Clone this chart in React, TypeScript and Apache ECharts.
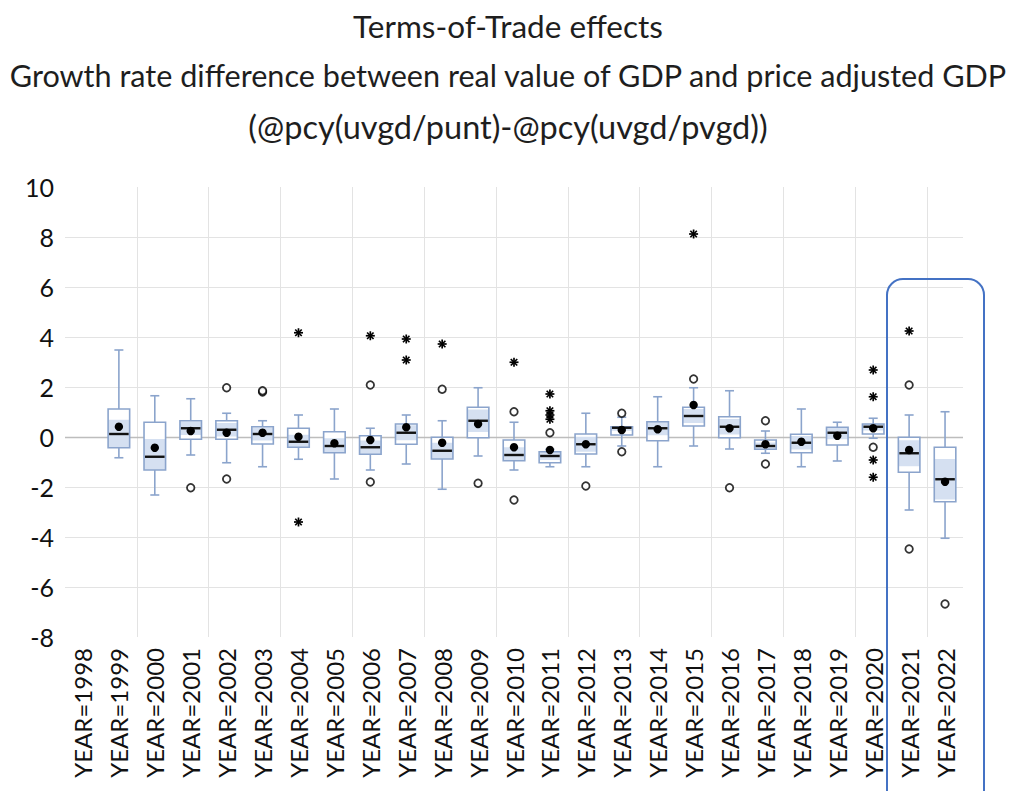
import React, { useEffect, useRef } from "react";
import * as echarts from "echarts";

const years = [1998, 1999, 2000, 2001, 2002, 2003, 2004, 2005, 2006, 2007, 2008, 2009, 2010, 2011, 2012, 2013, 2014, 2015, 2016, 2017, 2018, 2019, 2020, 2021, 2022];
const categories = years.map((y) => "YEAR=" + y);

const titleLines = [
  "Terms-of-Trade effects",
  "Growth rate difference between real value of GDP and price adjusted GDP",
  "(@pcy(uvgd/punt)-@pcy(uvgd/pvgd))",
];

// box statistics per year (1998 has no data)
const whiskerLow = [null, -0.83, -2.32, -0.72, -1.03, -1.19, -0.89, -1.68, -1.32, -1.08, -2.09, -0.76, -1.32, -1.19, -1.19, -0.36, -1.19, -0.36, -0.48, -0.65, -1.19, -0.96, -0.05, -2.92, -4.05];
const q1 = [null, -0.43, -1.32, -0.09, -0.09, -0.28, -0.41, -0.63, -0.69, -0.29, -0.88, -0.03, -0.95, -1.03, -0.68, 0.08, -0.15, 0.44, -0.03, -0.49, -0.63, -0.32, 0.12, -1.41, -2.59];
const median = [null, 0.12, -0.79, 0.35, 0.29, 0.12, -0.19, -0.36, -0.41, 0.17, -0.55, 0.65, -0.72, -0.76, -0.29, 0.37, 0.35, 0.84, 0.41, -0.36, -0.23, 0.17, 0.41, -0.65, -1.69];
const q3 = [null, 1.12, 0.59, 0.65, 0.65, 0.41, 0.35, 0.21, 0.05, 0.52, -0.01, 1.19, -0.12, -0.59, 0.12, 0.41, 0.61, 1.19, 0.81, -0.12, 0.11, 0.39, 0.52, -0.01, -0.41];
const whiskerHigh = [null, 3.48, 1.65, 1.53, 0.95, 0.65, 0.88, 1.12, 0.35, 0.88, 0.65, 1.97, 0.59, -0.49, 0.95, 0.79, 1.61, 1.97, 1.85, 0.24, 1.12, 0.59, 0.75, 0.88, 1.01];
const mean = [null, 0.41, -0.43, 0.24, 0.17, 0.17, 0.01, -0.25, -0.12, 0.39, -0.23, 0.52, -0.41, -0.52, -0.29, 0.28, 0.31, 1.28, 0.35, -0.29, -0.19, 0.05, 0.35, -0.52, -1.79];
// shaded median confidence band
const ciLow = [null, -0.45, -1.5, 0.08, 0.02, -0.14, -0.47, -0.67, -0.68, -0.13, -0.87, 0.2, -1.03, -0.92, -0.59, 0.25, 0.07, 0.56, 0.1, -0.5, -0.5, -0.09, 0.26, -1.17, -2.5];
const ciHigh = [null, 0.69, -0.08, 0.62, 0.56, 0.38, 0.09, -0.05, -0.14, 0.47, -0.23, 1.1, -0.41, -0.6, 0.01, 0.49, 0.63, 1.12, 0.72, -0.22, 0.04, 0.43, 0.56, -0.13, -0.88];

// near outliers (circles)
const circleYears = [2001, 2002, 2002, 2003, 2003, 2006, 2006, 2008, 2009, 2010, 2010, 2011, 2012, 2013, 2013, 2015, 2016, 2017, 2017, 2020, 2021, 2021, 2022];
const circleValues = [-2.03, 1.97, -1.68, 1.8, 1.85, 2.08, -1.8, 1.91, -1.85, 1.01, -2.52, 0.17, -1.96, 0.95, -0.59, 2.32, -2.03, 0.65, -1.08, -0.41, 2.08, -4.48, -6.68];

// far outliers (asterisks)
const starYears = [2004, 2004, 2006, 2007, 2007, 2008, 2010, 2011, 2011, 2011, 2011, 2015, 2020, 2020, 2020, 2020, 2021];
const starValues = [4.17, -3.4, 4.05, 3.92, 3.08, 3.72, 2.99, 1.72, 1.05, 0.88, 0.71, 8.12, 2.68, 1.61, -0.92, -1.61, 4.24];

const yTicks = [-8, -6, -4, -2, 0, 2, 4, 6, 8, 10];

const FONT = "Lato, 'Noto Sans', sans-serif";
const BOX_EDGE = "#8ba4cc";
const BOX_FILL = "#d5e0f1";

export default function App() {
  const ref = useRef<HTMLDivElement>(null);

  useEffect(() => {
    const chart = echarts.init(ref.current!, null, { renderer: "svg" });

    const boxData: any[] = [];
    years.forEach((_, i) => {
      if (median[i] == null) return;
      boxData.push([i, whiskerLow[i], q1[i], median[i], q3[i], whiskerHigh[i], mean[i], ciLow[i], ciHigh[i]]);
    });
    const circleData = circleYears.map((y, k) => [years.indexOf(y), circleValues[k]]);
    const starData = starYears.map((y, k) => [years.indexOf(y), starValues[k]]);

    const renderBox = (params: any, api: any) => {
      const idx = api.value(0);
      const x = api.coord([idx, 0])[0];
      const Y = (v: number) => api.coord([idx, v])[1];
      const bw = api.size([1, 0])[0] * 0.6;
      const cap = 9;
      const lo = api.value(1), b1 = api.value(2), md = api.value(3), b3 = api.value(4), hi = api.value(5), mn = api.value(6);
      const cl = Math.max(api.value(7), b1), ch = Math.min(api.value(8), b3);
      const edge = { stroke: BOX_EDGE, lineWidth: 1.6 };
      return {
        type: "group",
        children: [
          { type: "line", shape: { x1: x, y1: Y(hi), x2: x, y2: Y(b3) }, style: edge },
          { type: "line", shape: { x1: x, y1: Y(b1), x2: x, y2: Y(lo) }, style: edge },
          { type: "line", shape: { x1: x - cap / 2, y1: Y(hi), x2: x + cap / 2, y2: Y(hi) }, style: edge },
          { type: "line", shape: { x1: x - cap / 2, y1: Y(lo), x2: x + cap / 2, y2: Y(lo) }, style: edge },
          { type: "rect", shape: { x: x - bw / 2, y: Y(b3), width: bw, height: Y(b1) - Y(b3) }, style: { fill: "#ffffff" } },
          { type: "rect", shape: { x: x - bw / 2, y: Y(ch), width: bw, height: Math.max(0, Y(cl) - Y(ch)) }, style: { fill: BOX_FILL } },
          { type: "rect", shape: { x: x - bw / 2, y: Y(b3), width: bw, height: Y(b1) - Y(b3) }, style: { fill: "none", stroke: BOX_EDGE, lineWidth: 1.6 } },
          { type: "line", shape: { x1: x - bw / 2 + 1, y1: Y(md), x2: x + bw / 2 - 1, y2: Y(md) }, style: { stroke: "#111", lineWidth: 2.4 } },
          { type: "circle", shape: { cx: x, cy: Y(mn), r: 4.2 }, style: { fill: "#000" } },
        ],
      };
    };

    const renderStar = (params: any, api: any) => {
      const [cx, cy] = api.coord([api.value(0), api.value(1)]);
      const r = 4.5;
      const d = r * 0.72;
      const st = { stroke: "#000", lineWidth: 1.7 };
      return {
        type: "group",
        children: [
          { type: "line", shape: { x1: cx - r, y1: cy, x2: cx + r, y2: cy }, style: st },
          { type: "line", shape: { x1: cx, y1: cy - r, x2: cx, y2: cy + r }, style: st },
          { type: "line", shape: { x1: cx - d, y1: cy - d, x2: cx + d, y2: cy + d }, style: st },
          { type: "line", shape: { x1: cx - d, y1: cy + d, x2: cx + d, y2: cy - d }, style: st },
        ],
      };
    };

    const titleTops = [10, 60, 110];
    const titleSizes = [31.5, 30.6, 32.5];

    const option: any = {
      animation: false,
      backgroundColor: "#ffffff",
      title: titleLines.map((t, k) => ({
        text: t,
        left: "center",
        top: titleTops[k],
        padding: 0,
        textStyle: { fontFamily: FONT, fontSize: titleSizes[k], fontWeight: "normal", color: "#1e1e1e" },
      })),
      grid: { left: 65, right: 53, top: 187, bottom: 154, containLabel: false },
      xAxis: {
        type: "category",
        data: categories,
        boundaryGap: true,
        axisLine: { show: false, onZero: false },
        axisTick: { show: false },
        axisLabel: { rotate: 90, interval: 0, margin: 11, fontFamily: FONT, fontSize: 24, color: "#111" },
        splitLine: { show: true, interval: 1, showMinLine: false, showMaxLine: false, lineStyle: { color: "#e3e3e3", width: 1 } },
      },
      yAxis: {
        type: "value",
        min: yTicks[0],
        max: yTicks[yTicks.length - 1],
        interval: 2,
        axisLine: { show: false },
        axisTick: { show: false },
        axisLabel: { margin: 11, fontFamily: FONT, fontSize: 25, color: "#111" },
        splitLine: { show: true, showMinLine: false, showMaxLine: false, lineStyle: { color: "#e3e3e3", width: 1 } },
      },
      series: [
        {
          type: "custom",
          name: "box",
          renderItem: renderBox,
          data: boxData,
          encode: { x: 0, y: [1, 5] },
          z: 3,
          markLine: {
            silent: true,
            symbol: "none",
            label: { show: false },
            lineStyle: { color: "#bdbdbd", width: 1.3, type: "solid" },
            data: [{ yAxis: 0 }],
            z: 1,
          },
        },
        {
          type: "scatter",
          name: "outliers",
          data: circleData,
          symbol: "circle",
          symbolSize: 7.5,
          itemStyle: { color: "#ffffff", borderColor: "#000", borderWidth: 1.8 },
          z: 4,
        },
        {
          type: "custom",
          name: "far outliers",
          renderItem: renderStar,
          data: starData,
          encode: { x: 0, y: 1 },
          z: 4,
        },
      ],
      graphic: [
        {
          type: "rect",
          shape: { x: 887, y: 279, width: 97, height: 560, r: 16 },
          style: { fill: "none", stroke: "#4472c4", lineWidth: 2 },
          z: 10,
        },
      ],
    };

    chart.setOption(option);
    return () => chart.dispose();
  }, []);

  return <div ref={ref} style={{ position: "fixed", left: 0, top: 0, width: 1016, height: 791 }} />;
}
